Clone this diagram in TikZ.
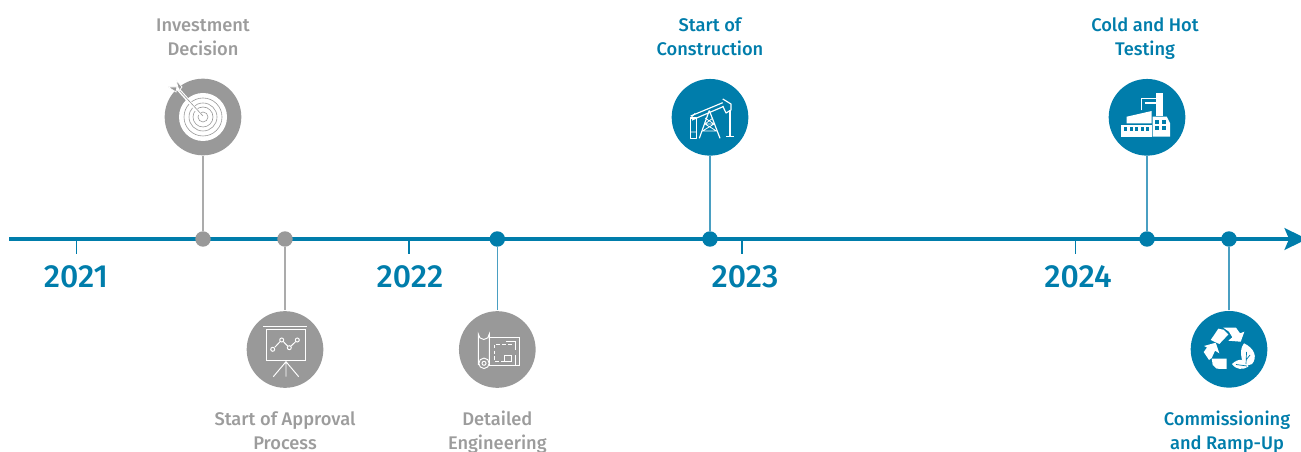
\documentclass[tikz,border=0pt]{standalone}
\usepackage{fontspec}
\setmainfont{Fira Sans Medium}
\usepackage{xcolor}
\usetikzlibrary{arrows.meta,positioning}
\definecolor{lineblue}{HTML}{007DAB}
\definecolor{thinblue}{HTML}{4A9FC2}
\definecolor{discgrey}{HTML}{999999}
\definecolor{thingrey}{HTML}{ABABAB}
\definecolor{textgrey}{HTML}{9C9C9C}

\begin{document}
\begin{tikzpicture}[x=.01cm,y=-.01cm,>={Stealth[length=6.4pt,width=6.2pt,inset=1.3pt]}]
\tikzset{
  dot/.style={circle,inner sep=0pt,minimum size=4.4pt},
  disc/.style={circle,inner sep=0pt,minimum size=21.8pt},
  stem/.style={line width=.42pt},
  yeartick/.style={line width=.3pt,lineblue},
  caption/.style={align=center,font=\fontsize{5.2}{6.8}\selectfont,inner sep=0pt,anchor=base},
  year/.style={font=\fontsize{9.1}{10}\selectfont,text=lineblue,inner sep=0pt},
  icon/.style={white,line width=.33pt,line join=round},
  iconthin/.style={white,line width=.22pt,line join=round},
  glyphline/.style={white,line width=.27pt}
}
\useasboundingbox (0,0) rectangle (1301,452);

\coordinate (axisstart) at (9,239);
\coordinate (axisend) at (1307,239);
\draw[lineblue,line width=.9pt,->] (axisstart) -- (axisend);

% year ticks
\foreach \xpos/\tickname in {76.5/a,409/b,742/c,1075.5/d}{
  \coordinate (tick\tickname) at (\xpos,239);
  \coordinate (tickend\tickname) at (\xpos,254);
  \draw[yeartick] (tick\tickname) -- (tickend\tickname);
}
\node[year] (year2021) at (76,277) {2021};
\node[year] (year2022) at (410,277) {2022};
\node[year] (year2023) at (745,277) {2023};
\node[year] (year2024) at (1078,277) {2024};

% milestones
\node[disc,fill=discgrey] (discinvest) at (203,117) {};
\node[disc,fill=discgrey] (discapproval) at (285,349.5) {};
\node[disc,fill=discgrey] (discdetail) at (497.3,349.5) {};
\node[disc,fill=lineblue] (disconstruct) at (710,117.3) {};
\node[disc,fill=lineblue] (dischot) at (1147,117.3) {};
\node[disc,fill=lineblue] (discramp) at (1229,349.3) {};

\node[dot,fill=discgrey] (dotinvest) at (203,239) {};
\node[dot,fill=discgrey] (dotapproval) at (285,239) {};
\node[dot,fill=lineblue] (dotdetail) at (497.3,239) {};
\node[dot,fill=lineblue] (dotconstruct) at (710,239) {};
\node[dot,fill=lineblue] (dothot) at (1147,239) {};
\node[dot,fill=lineblue] (dotramp) at (1229,239) {};

\draw[stem,thingrey] (discinvest) -- (dotinvest);
\draw[stem,thingrey] (dotapproval) -- (discapproval);
\draw[stem,thinblue] (dotdetail) -- (discdetail);
\draw[stem,thinblue] (disconstruct) -- (dotconstruct);
\draw[stem,thinblue] (dischot) -- (dothot);
\draw[stem,thinblue] (dotramp) -- (discramp);

\node[caption,text=textgrey] (capinvest) at (203,55.5) {Investment\\Decision};
\node[caption,text=textgrey] (capapproval) at (285,449) {Start of Approval\\Process};
\node[caption,text=textgrey] (capdetail) at (497.3,449) {Detailed\\Engineering};
\node[caption,text=lineblue] (capconstruct) at (710,55.5) {Start of\\Construction};
\node[caption,text=lineblue] (caphot) at (1145,55.5) {Cold and Hot\\Testing};
\node[caption,text=lineblue] (capramp) at (1227,449) {Commissioning\\and Ramp-Up};

% target
\fill[white] (203,117) circle (24);
\foreach \ringsize in {5,10,14,19}{
  \draw[discgrey,line width=.17pt] (203,117) circle (\ringsize);
}
\draw[white,line width=.9pt] (201,115) -- (178,89);
\draw[discgrey,line width=.17pt] (203,116) -- (178,89);
\draw[white,line width=.2pt,fill=discgrey] (179,91) -- (176,80) -- (182,87) -- cycle;
\draw[white,line width=.2pt,fill=discgrey] (176,92) -- (168,87) -- (177,87) -- cycle;
\fill[white] (178,89) circle (1.6);

% presentation board
\draw[glyphline,line width=.35pt] (263.3,326.7) -- (307.3,326.7);
\draw[glyphline] (266,329.3) rectangle (305,360);
\draw[glyphline] (274.7,347.3) -- (281.7,340) -- (289.3,347.7) -- (297.3,340);
\foreach \px/\py in {272.7/349.3,281.7/340,289.3/347.7,297.3/340}{
  \draw[glyphline,fill=discgrey] (\px,\py) circle (2);
}
\draw[glyphline] (273.3,376.7) -- (286,361.7) -- (298.7,376.7) (286,361) -- (286,376.7);

% blueprint
\draw[glyphline] (478.3,365) -- (478.3,334) arc (180:0:5.5) -- (489.3,365);
\draw[glyphline] (484,363.3) circle (5.2) circle (2);
\draw[glyphline] (489.3,337.7) -- (519.3,337.7) -- (519.3,365.7) -- (489.3,365.7);
\draw[glyphline,dash pattern=on 1.1pt off .6pt] (511.7,344.3) -- (494,344.3) -- (494,361.7) -- (504,361.7);
\draw[glyphline] (504,355) rectangle (511.7,361.7);
\draw[glyphline] (506,341.5) -- (515.5,341.5) -- (515.5,350);
\draw[glyphline] (515.5,355) -- (515.5,365);

% oil pump
\draw[icon] (690.7,116) -- (722.7,102.7) (692,120) -- (723.5,106.5);
\draw[icon] (722.7,99) -- (731,104) -- (731,110) -- (726,113) -- (722.7,106);
\draw[icon] (730,110) -- (730,136.7) (726,136.7) -- (734,136.7);
\draw[icon] (709.3,110.5) -- (699.3,138.3) (709.3,110.5) -- (720,138.3);
\draw[iconthin] (704,124) -- (715,124) (702,131) -- (717,131) (705,118) -- (714,124) -- (702.5,131) (713,118) -- (705,124) -- (716.5,131);
\draw[icon] (690.7,118) rectangle (696.7,138.3);
\draw[iconthin] (691,132) -- (696,132) (690.7,118) -- (695,113.5);

% factory
\fill[white] (1126.7,116.7) -- (1151.7,111) -- (1151.7,123.3) -- (1126.7,123.3) -- cycle;
\fill[white] (1121,125) rectangle (1151.7,136.7);
\foreach \wx in {1124,1129.5,1135,1140.5,1146}{
  \fill[lineblue] (\wx,127.5) rectangle ++(3.3,3.3);
}
\fill[white] (1152.7,116.7) -- (1166.7,116.7) -- (1170,123.3) -- (1170,136.7) -- (1152.7,136.7) -- cycle;
\foreach \wx in {1155,1161.5}{
  \foreach \wy in {120.5,126.5}{
    \fill[lineblue] (\wx,\wy) rectangle ++(4,4);
  }
}
\fill[white] (1156,93.3) rectangle (1162.7,116);
\draw[white,line width=.3pt] (1141.7,110.5) -- (1141.7,98.5) -- (1156,98.5);
\draw[white,line width=.45pt] (1144.5,103) -- (1156,103);

% recycling and leaves
\fill[white] (1223.3,327.7) -- (1236,327.7) -- (1240,333.3) -- (1244.3,331.7) -- (1240.7,341.7) -- (1228.3,340.7) -- (1232.3,337.3) -- (1229,331.7) -- cycle;
\fill[white] (1210.7,340) -- (1218.3,328.7) -- (1223.5,329.7) -- (1228.3,334.5) -- (1219.3,344) -- cycle;
\fill[white] (1204,346) -- (1215.7,342.7) -- (1219.3,353.3) -- (1215,350.7) -- (1211.7,358) -- (1209,360) -- (1203.7,352) -- (1207,347.5) -- cycle;
\fill[white] (1211.7,358.7) -- (1226.7,358.7) -- (1226.7,369) -- (1216.7,368.7) -- (1212.7,365) -- cycle;
\fill[white] (1244.3,366.7) .. controls (1239,354) and (1241,347) .. (1244,343.3) .. controls (1254,348) and (1258,357) .. (1252,364) -- cycle;
\fill[white] (1232,364) .. controls (1238,358) and (1246,358) .. (1248.3,366.7) .. controls (1243,370) and (1236,370) .. (1232,364) -- cycle;
\draw[lineblue,line width=.2pt] (1246,364) -- (1246.5,352) (1246,360) -- (1250,355);
\draw[lineblue,line width=.2pt] (1236,364.5) -- (1247,366);
\end{tikzpicture}
\end{document}
